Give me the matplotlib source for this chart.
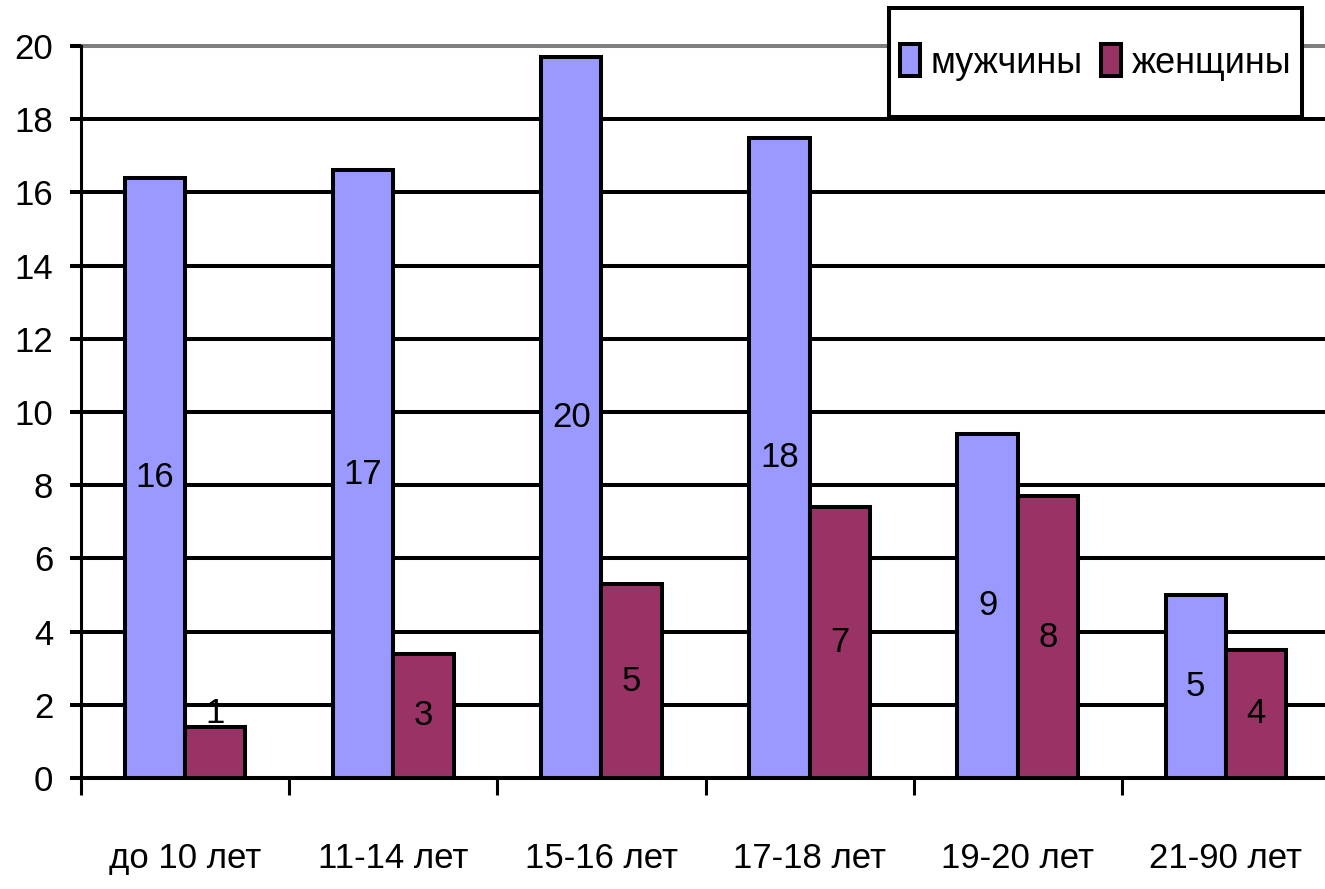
"""
Bar chart: men / women by age group.
"""

import matplotlib
matplotlib.use("Agg")
import matplotlib.pyplot as plt
from matplotlib.patches import Rectangle
import numpy as np

# Data
age_groups = ["до 10 лет", "11-14 лет", "15-16 лет", "17-18 лет", "19-20 лет", "21-90 лет"]
men = [16.4, 16.6, 19.7, 17.5, 9.4, 5.0]
women = [1.4, 3.4, 5.3, 7.4, 7.7, 3.5]
series_names = ["мужчины", "женщины"]
y_ticks = list(range(0, 21, 2))

MEN_COLOR = "#9999FF"
WOMEN_COLOR = "#993366"

plt.rcParams["font.family"] = ["Liberation Sans", "DejaVu Sans"]

W, H, DPI = 1325, 889, 100
fig = plt.figure(figsize=(W / DPI, H / DPI), dpi=DPI)
# axes placed to match the reference plot area (right edge runs off the figure)
ax = fig.add_axes([81 / W, 111 / H, (1330 - 81) / W, 732 / H])

x = np.arange(len(age_groups))
width = 0.29
lw = 2.9
FS = 25

bars_m = ax.bar(x - width / 2, men, width, color=MEN_COLOR, edgecolor="black",
                linewidth=lw, label=series_names[0], zorder=2)
bars_w = ax.bar(x + width / 2, women, width, color=WOMEN_COLOR, edgecolor="black",
                linewidth=lw, label=series_names[1], zorder=2)

# value labels in the middle of each bar (Excel style); a bar shorter than
# one grid step gets its label pushed up and partly hidden behind the bar
for bars in (bars_m, bars_w):
    for bar in bars:
        h = bar.get_height()
        cx = bar.get_x() + bar.get_width() / 2
        if h < 2:
            ax.text(cx, 1.75, f"{h:.0f}", ha="center", va="center",
                    fontsize=FS, zorder=1.5)
        else:
            ax.text(cx, h / 2, f"{h:.0f}", ha="center", va="center",
                    fontsize=FS, zorder=3)

ax.set_xlim(-0.5, len(age_groups) - 0.5)
ax.set_ylim(0, 20)

# y axis
ax.set_yticks(y_ticks)
ax.set_yticklabels([str(t) for t in y_ticks], fontsize=FS)
ax.tick_params(axis="y", length=8, width=lw, pad=12, direction="out")
ax.set_axisbelow(True)
ax.grid(axis="y", color="black", linewidth=lw)
top_grid = ax.get_ygridlines()[-1]
top_grid.set_color("#808080")
top_grid.set_clip_on(False)

# x axis: ticks on category boundaries, labels centred on categories
ax.set_xticks(np.arange(-0.5, len(age_groups), 1.0))
ax.set_xticklabels([])
ax.tick_params(axis="x", which="major", length=12, width=2.2, direction="out")
ax.set_xticks(x, minor=True)
ax.set_xticklabels(age_groups, minor=True, fontsize=FS)
ax.tick_params(axis="x", which="minor", length=0, pad=46)

for side in ("top", "right"):
    ax.spines[side].set_visible(False)
ax.spines["left"].set_linewidth(2.2)
ax.spines["bottom"].set_linewidth(lw)

# legend: frame drawn by hand (taller than matplotlib's uniform padding allows)
box_l, box_t, box_r, box_b = 889, 8, 1302, 117
frame = Rectangle((box_l / W, 1 - box_b / H), (box_r - box_l) / W,
                  (box_b - box_t) / H, transform=fig.transFigure,
                  facecolor="white", edgecolor="black", linewidth=lw, zorder=4)
fig.patches.append(frame)

leg = fig.legend(
    loc="center",
    bbox_to_anchor=((box_l + box_r) / 2 / W, 1 - (box_t + box_b) / 2 / H),
    bbox_transform=fig.transFigure,
    ncol=2,
    fontsize=26,
    frameon=False,
    borderaxespad=0,
    borderpad=0,
    handlelength=0.55,
    handleheight=0.97,
    handletextpad=0.3,
    columnspacing=0.5,
)
leg.set_zorder(5)

fig.savefig("out.png", dpi=DPI)
plt.close(fig)
